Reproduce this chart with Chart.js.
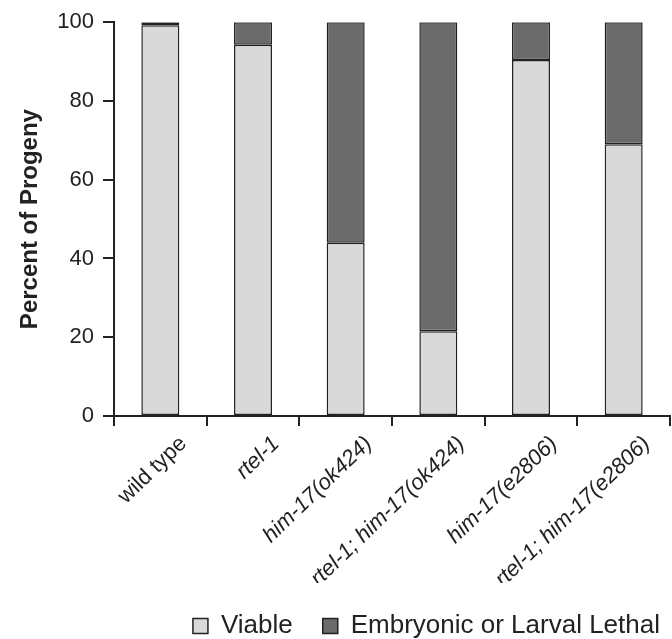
<!DOCTYPE html>
<html>
<head>
<meta charset="utf-8">
<script src="https://cdn.jsdelivr.net/npm/chart.js@4/dist/chart.umd.min.js"></script>
<style>
  html, body { margin: 0; padding: 0; background: #fff; }
  #wrap { width: 672px; height: 639px; }
</style>
</head>
<body>
<div id="wrap"><canvas id="chart"></canvas></div>
<script>
// strains and percentages
const strains  = ["wild type", "rtel-1", "him-17(ok424)", "rtel-1; him-17(ok424)", "him-17(e2806)", "rtel-1; him-17(e2806)"];
const viable   = [99.2, 94.3, 44.0, 21.5, 90.4, 69.0];
const lethal   = [0.8, 5.7, 56.0, 78.5, 9.6, 31.0];
const yTicks   = [0, 20, 40, 60, 80, 100];

const FONT = "'Liberation Sans', Arial, sans-serif";
const INK  = "#222";

// nudge the legend a bit to the right, like the original figure
const legendNudge = {
    id: "legendNudge",
    afterLayout(chart) {
        if (!chart.legend) return;
        chart.legend.left  += 20;
        chart.legend.right += 20;
    }
};

new Chart(document.getElementById("chart"), {
    type: "bar",
    data: {
        labels: strains,
        datasets: [
            {
                label:           "Viable",
                data:            viable,
                backgroundColor: "#d9d9d9",
                borderColor:     INK,
                borderWidth:     1.5,
                borderSkipped:   false,
            },
            {
                label:           "Embryonic or Larval Lethal",
                data:            lethal,
                backgroundColor: "#6b6b6b",
                borderColor:     INK,
                borderWidth:     1.5,
                borderSkipped:   false,
            }
        ]
    },
    options: {
        responsive:          true,
        maintainAspectRatio: false,
        animation:           false,
        datasets: { bar: { categoryPercentage: 1, barPercentage: 0.41 } },
        layout: { padding: { top: 8, right: 2, left: 12, bottom: -10 } },
        scales: {
            x: {
                stacked: true,
                afterFit: scale => { scale.height = 167; },
                border:  { color: INK, width: 2 },
                grid:    { offset: true, drawOnChartArea: false, color: INK, lineWidth: 2, tickLength: 10 },
                ticks: {
                    color:       INK,
                    minRotation: 44,
                    maxRotation: 44,
                    padding:     5,
                    labelOffset: 23,
                    font: ctx => ({ family: FONT, size: 22, style: ctx.index === 0 ? "normal" : "italic" }),
                }
            },
            y: {
                stacked: true,
                min: 0,
                max: 100,
                afterFit: scale => { scale.width = 102; },
                afterBuildTicks: axis => { axis.ticks = yTicks.map(v => ({ value: v })); },
                border: { color: INK, width: 2 },
                grid:   { drawOnChartArea: false, color: INK, lineWidth: 2, tickLength: 11 },
                ticks:  { color: INK, padding: 9, font: { family: FONT, size: 22 } },
                title: {
                    display: true,
                    text:    "Percent of Progeny",
                    color:   INK,
                    padding: { top: 4, bottom: 12 },
                    font:    { family: FONT, size: 24, weight: "bold" },
                }
            }
        },
        plugins: {
            legend: {
                position: "bottom",
                align:    "end",
                labels: {
                    color:     INK,
                    boxWidth:  15,
                    boxHeight: 15,
                    padding:   30,
                    font:      { family: FONT, size: 26 },
                }
            },
            tooltip: { enabled: false },
        }
    },
    plugins: [legendNudge]
});
</script>
</body>
</html>
